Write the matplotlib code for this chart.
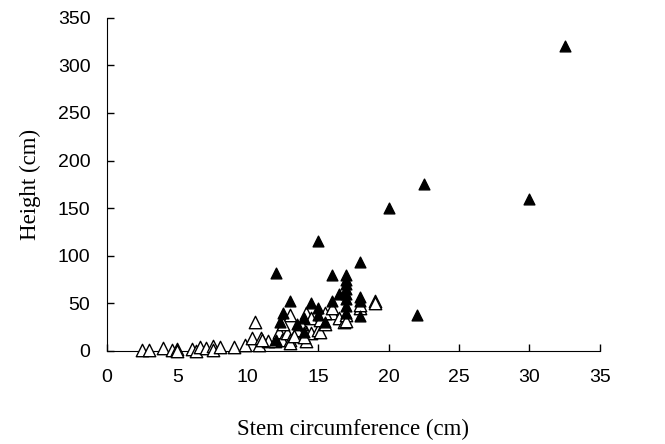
import matplotlib
matplotlib.use("Agg")
import matplotlib.pyplot as plt

plt.rcParams["font.family"] = "Liberation Sans"

# open triangles
open_x = [2.5, 3.0, 4.0, 4.6, 5.0, 5.0, 6.0, 6.3, 6.6, 7.0, 7.5, 7.5, 8.0, 9.0, 9.8,
          10.3, 10.8, 10.9, 10.5, 11.4, 11.9, 12.2, 12.4, 12.8, 13.0, 13.0, 13.5, 13.0,
          14.1, 14.1, 14.1, 14.5, 14.5, 15.0, 15.1, 15.1, 15.5, 16.0, 16.5, 16.8, 17.0,
          17.0, 18.0, 18.0, 19.0, 19.0, 13.8, 12.5, 11.0, 13.3, 14.0, 15.5, 16.0]
open_y = [1, 1, 3, 1, 2, 0, 2, 0, 4, 3, 5, 1, 4, 4, 6,
          14, 6, 14, 30, 10, 10, 20, 12, 19, 12, 38, 22, 8,
          40, 20, 10, 35, 19, 22, 33, 20, 28, 40, 35, 30, 38,
          32, 45, 48, 53, 50, 28, 28, 12, 16, 15, 40, 45]

# filled triangles
fill_x = [12.0, 12.3, 12.5, 13.0, 13.5, 14.0, 14.5, 15.0, 15.0, 15.0, 15.5, 16.0, 16.0,
          16.5, 17.0, 17.0, 17.0, 17.0, 17.0, 17.0, 17.0, 17.0, 18.0, 18.0, 18.0, 18.0,
          20.0, 22.0, 22.5, 30.0, 32.5, 12.0, 14.0]
fill_y = [82, 30, 40, 52, 28, 20, 50, 115, 38, 45, 30, 80, 52,
          60, 80, 75, 70, 65, 60, 55, 47, 40, 93, 57, 52, 37,
          150, 38, 175, 160, 320, 12, 35]

fig = plt.figure(figsize=(6.65, 4.44), dpi=100)
ax = fig.add_axes([0.161, 0.2095, 0.741, 0.7505])

ax.scatter(open_x, open_y, marker="^", s=80, facecolors="white", edgecolors="black",
           linewidths=1.0, zorder=3, clip_on=False)
ax.scatter(fill_x, fill_y, marker="^", s=60, color="black", zorder=4, clip_on=False)

ax.set_xlim(0, 35)
ax.set_ylim(0, 350)
ax.set_xticks(range(0, 36, 5))
ax.set_yticks(range(0, 351, 50))
ax.spines["top"].set_visible(False)
ax.spines["right"].set_visible(False)
ax.tick_params(direction="in", length=5, width=1, labelsize=14)
ax.tick_params(axis="x", pad=13)
ax.tick_params(axis="y", pad=12)

ax.set_xlabel("Stem circumference (cm)", family="Liberation Serif", fontsize=16.5, labelpad=24)
ax.set_ylabel("Height (cm)", family="Liberation Serif", fontsize=16.5, labelpad=12)

fig.savefig("out.png", dpi=100)
